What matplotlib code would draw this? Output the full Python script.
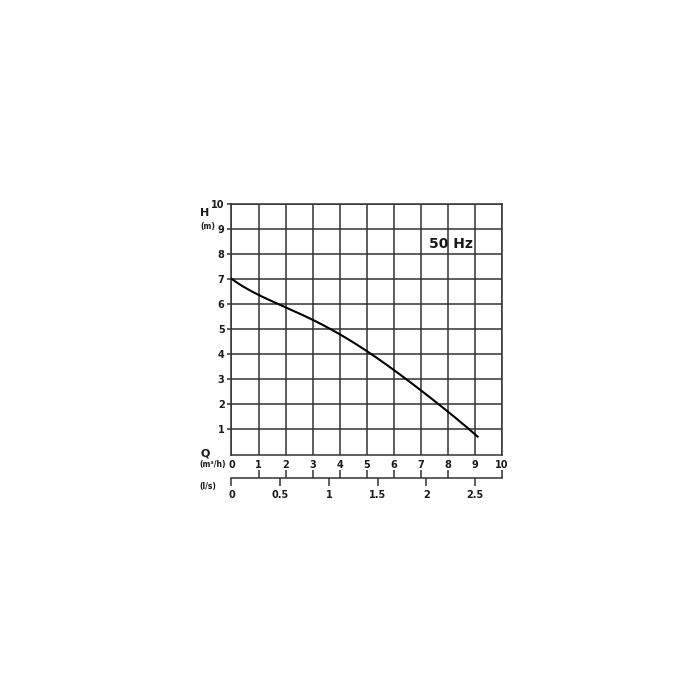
import matplotlib.pyplot as plt
import numpy as np

# pump curve: Q in m3/h, H in m
q_flow = [0, 0.5, 1, 1.5, 2, 2.5, 3, 3.5, 4, 4.5, 5, 5.5, 6, 6.5, 7, 7.5, 8, 8.5, 9.1]
h_head = [7.0, 6.70, 6.37, 6.07, 5.87, 5.64, 5.40, 5.13, 4.82, 4.46, 4.05,
          3.76, 3.40, 3.01, 2.58, 2.13, 1.69, 1.27, 0.72]

q_ticks = list(range(0, 11))
h_ticks = list(range(1, 11))
ls_ticks = [0, 0.5, 1, 1.5, 2, 2.5]
ls_labels = ["0", "0.5", "1", "1.5", "2", "2.5"]

grid_col = "#333333"
txt_col = "#1a1a1a"
tick_font = dict(fontsize=7, fontweight="bold", color=txt_col)

fig = plt.figure(figsize=(7, 7), dpi=100)
ax = fig.add_axes([0.3307, 0.3507, 0.3864, 0.3579])

ax.set_xlim(0, 10)
ax.set_ylim(0, 10)
ax.set_xticks(q_ticks)
ax.set_yticks(h_ticks)
ax.set_xticklabels([str(v) for v in q_ticks], **tick_font)
ax.set_yticklabels([str(v) for v in h_ticks], **tick_font)
ax.tick_params(axis="x", length=0, pad=4)
ax.tick_params(axis="y", length=3, width=1.1, color=grid_col, pad=2)
ax.grid(True, color=grid_col, linewidth=1.1)
for s in ax.spines.values():
    s.set_color(grid_col)
    s.set_linewidth(1.1)

# smooth curve fitted through the read points
coef = np.polyfit(q_flow, h_head, 5)
xs = np.linspace(q_flow[0], q_flow[-1], 200)
ax.plot(xs, np.polyval(coef, xs), color="black", linewidth=1.5, zorder=3)

ax.text(8.1, 8.4, "50 Hz", fontsize=10, fontweight="bold", color=txt_col,
        ha="center", va="center")

# second flow scale in l/s
ax2 = fig.add_axes([0.3307, 0.3176, 0.3864, 0.001])
ax2.set_xlim(0, 10)
ax2.set_yticks([])
for k in ["top", "left", "right"]:
    ax2.spines[k].set_visible(False)
ax2.spines["bottom"].set_color(grid_col)
ax2.spines["bottom"].set_linewidth(1.1)
ax2.set_xticks([v * 3.6 for v in ls_ticks])
ax2.set_xticklabels(ls_labels, **tick_font)
ax2.set_xticks(q_ticks, minor=True)
ax2.tick_params(axis="x", which="major", direction="out", length=6,
                width=1.1, color=grid_col, pad=3)
ax2.tick_params(axis="x", which="minor", direction="in", length=6,
                width=1.1, color=grid_col)
ax2.patch.set_visible(False)

# axis titles
fig.text(205 / 700, 1 - 213 / 700, "H", fontsize=8, fontweight="bold",
         color=txt_col, ha="center", va="center")
fig.text(208 / 700, 1 - 226 / 700, "(m)", fontsize=5.5, fontweight="bold",
         color=txt_col, ha="center", va="center")
fig.text(205 / 700, 1 - 453 / 700, "Q", fontsize=8, fontweight="bold",
         color=txt_col, ha="center", va="center")
fig.text(213 / 700, 1 - 465 / 700, "(m³/h)", fontsize=5.5, fontweight="bold",
         color=txt_col, ha="center", va="center")
fig.text(208 / 700, 1 - 487 / 700, "(l/s)", fontsize=5.5, fontweight="bold",
         color=txt_col, ha="center", va="center")

fig.savefig("out.png", dpi=100)
